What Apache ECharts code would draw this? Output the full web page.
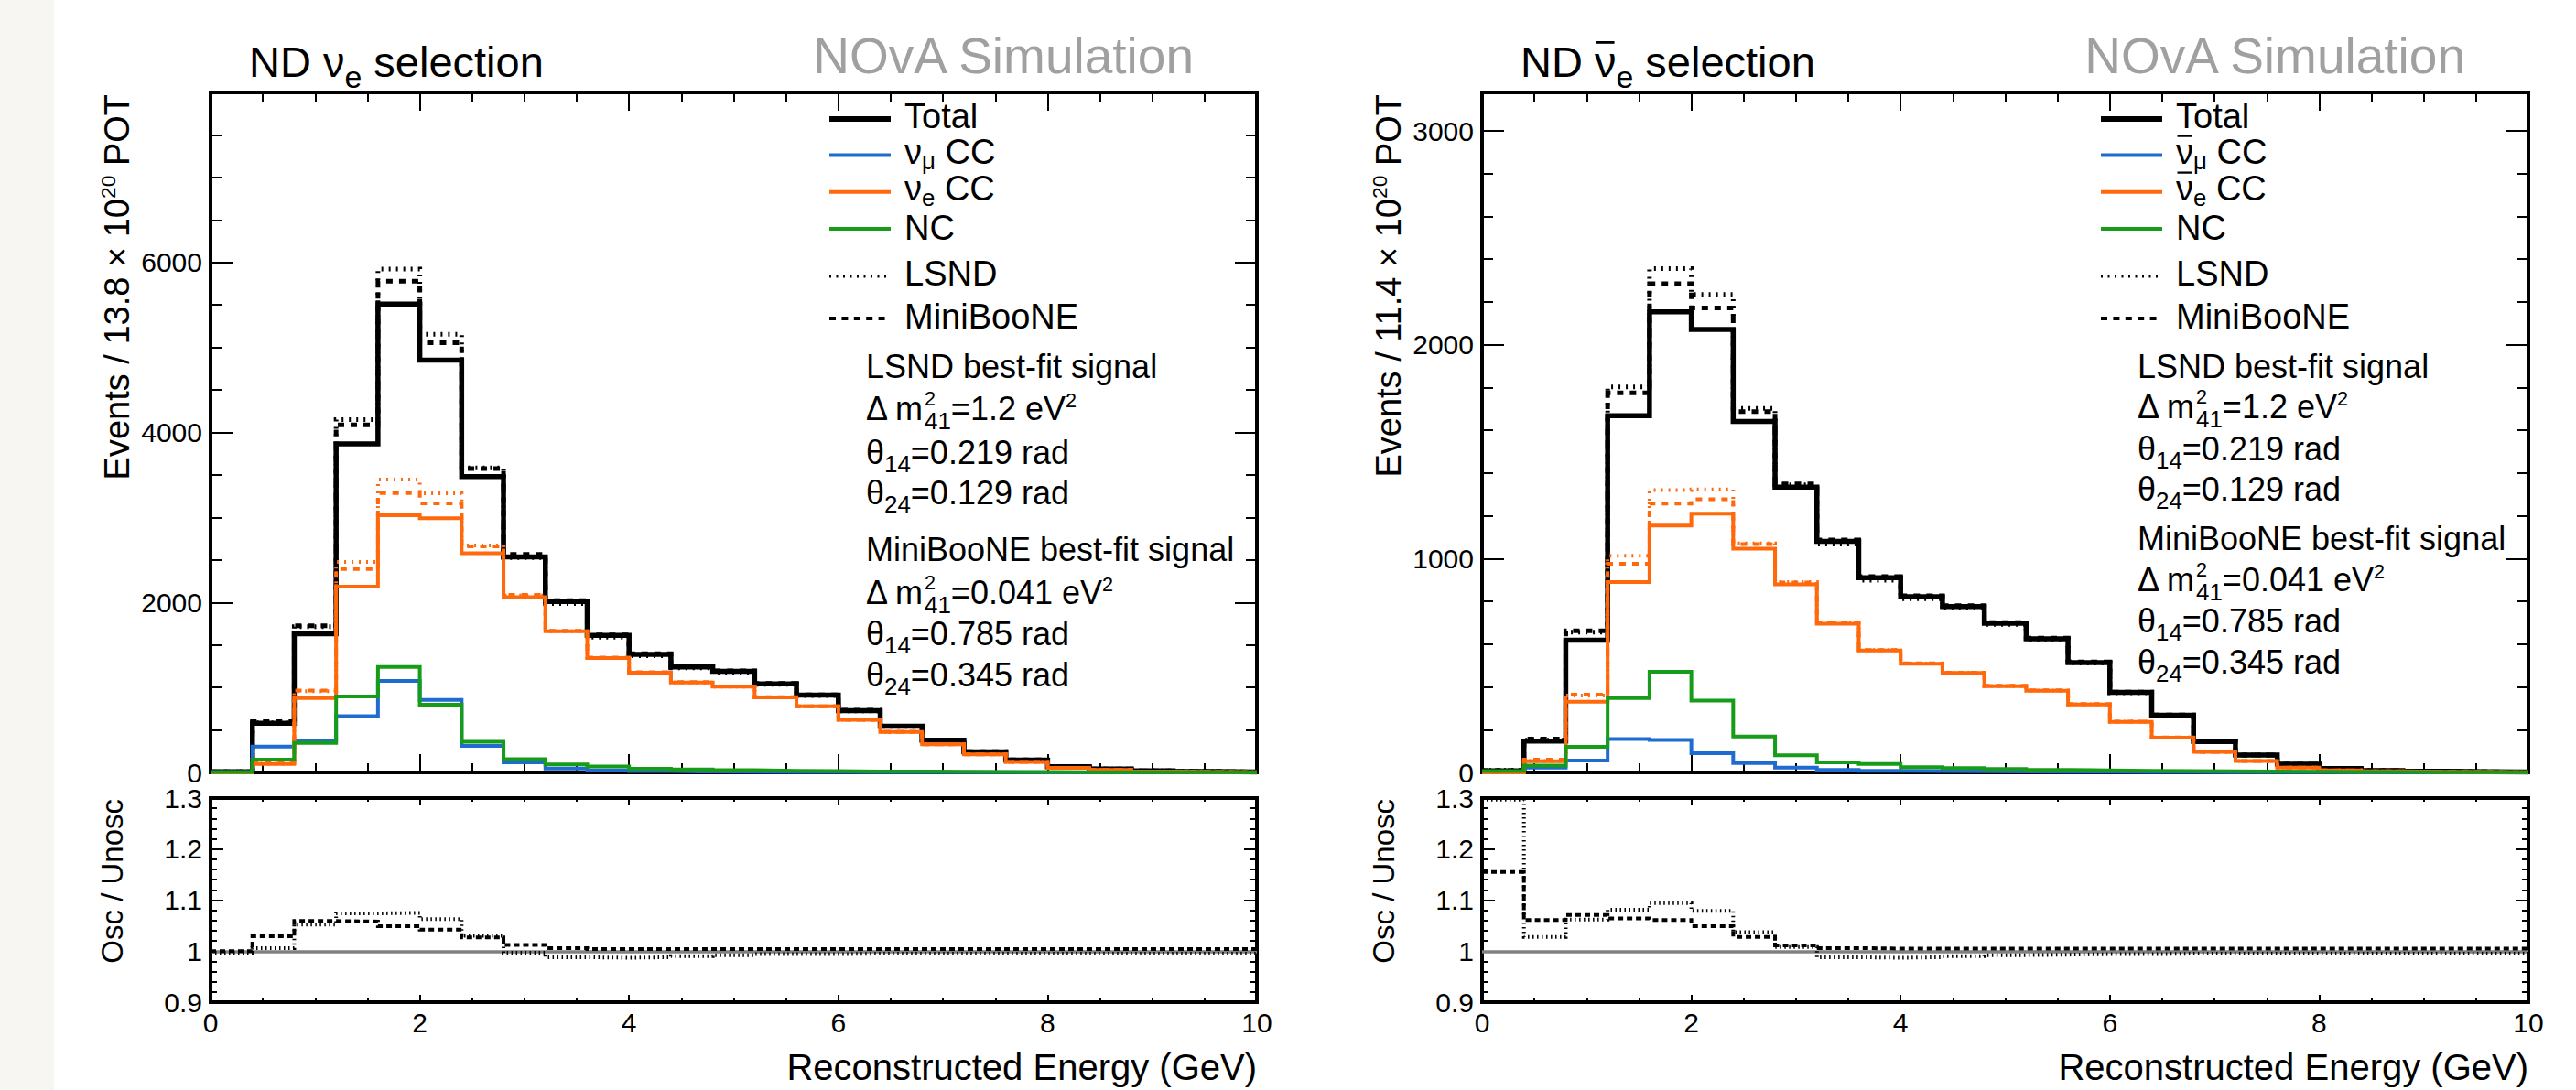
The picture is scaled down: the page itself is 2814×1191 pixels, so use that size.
<!DOCTYPE html>
<html><head><meta charset="utf-8">
<script src="https://cdn.jsdelivr.net/npm/echarts@6/dist/echarts.min.js"></script>
<style>html,body{margin:0;padding:0;background:#fff;}#c{width:2814px;height:1191px;}</style>
</head><body><div id="c"></div>
<script>
// ---------------- data ----------------
const binEdges = [0, 0.4, 0.8, 1.2, 1.6, 2.0, 2.4, 2.8, 3.2, 3.6, 4.0, 4.4, 4.8, 5.2, 5.6, 6.0, 6.4, 6.8, 7.2, 7.6, 8.0, 8.4, 8.8, 9.2, 9.6, 10.0];

// Left: ND nu_e selection
const totalL     = [8, 580, 1630, 3865, 5510, 4850, 3480, 2535, 2010, 1612, 1390, 1242, 1190, 1042, 909, 728, 543, 380, 243, 146, 66, 40, 18, 10, 5];
const totalLsndL = [8, 583, 1715, 4151, 5923, 5156, 3584, 2527, 1986, 1591, 1373, 1230, 1180, 1036, 904, 724, 540, 378, 242, 145, 66, 40, 18, 10, 5];
const totalMbL   = [8, 597, 1726, 4089, 5780, 5054, 3574, 2565, 2022, 1618, 1396, 1247, 1195, 1046, 913, 731, 545, 382, 244, 147, 66, 40, 18, 10, 5];
const numuL      = [2, 303, 377, 663, 1078, 854, 313, 118, 46, 25, 15, 10, 8, 6, 5, 4, 3, 2, 2, 1, 1, 1, 0, 0, 0];
const nueL       = [0, 100, 875, 2187, 3025, 2990, 2579, 2062, 1660, 1345, 1174, 1059, 1009, 883, 777, 618, 477, 331, 212, 124, 53, 30, 12, 6, 3];
const nueLsndL   = [0, 103, 955, 2476, 3445, 3284, 2670, 2080, 1660, 1345, 1174, 1059, 1009, 883, 777, 618, 477, 331, 212, 124, 53, 30, 12, 6, 3];
const nueMbL     = [0, 115, 963, 2392, 3287, 3165, 2660, 2090, 1665, 1350, 1178, 1062, 1012, 885, 779, 620, 478, 332, 212, 124, 53, 30, 12, 6, 3];
const ncL        = [5, 152, 348, 894, 1240, 798, 362, 155, 95, 70, 44, 35, 26, 20, 15, 12, 10, 8, 6, 5, 4, 3, 2, 2, 1];
const ratioLsndL = [0.997, 1.006, 1.052, 1.074, 1.075, 1.063, 1.030, 0.997, 0.988, 0.987, 0.988, 0.990, 0.992, 0.994, 0.994, 0.995, 0.995, 0.995, 0.995, 0.995, 0.995, 0.995, 0.995, 0.995, 0.995];
const ratioMbL   = [1.000, 1.029, 1.059, 1.058, 1.049, 1.042, 1.027, 1.012, 1.006, 1.004, 1.004, 1.004, 1.004, 1.004, 1.004, 1.004, 1.004, 1.004, 1.004, 1.004, 1.004, 1.004, 1.004, 1.004, 1.004];

// Right: ND anti-nu_e selection
const totalR     = [8, 147, 618, 1668, 2154, 2071, 1641, 1334, 1081, 911, 822, 776, 698, 625, 514, 374, 268, 144, 81, 39, 18, 9, 5, 3, 2];
const totalLsndR = [10, 151, 656, 1803, 2356, 2235, 1702, 1345, 1068, 899, 812, 768, 692, 621, 511, 372, 267, 143, 81, 39, 18, 9, 5, 3, 2];
const totalMbR   = [9, 156, 662, 1775, 2285, 2172, 1687, 1349, 1087, 916, 826, 780, 701, 628, 517, 376, 269, 145, 81, 39, 18, 9, 5, 3, 2];
const numuR      = [2, 23, 56, 156, 152, 90, 44, 23, 12, 8, 6, 5, 4, 3, 3, 2, 2, 1, 1, 1, 0, 0, 0, 0, 0];
const nueR       = [0, 52, 331, 890, 1154, 1210, 1046, 879, 696, 570, 508, 465, 403, 382, 318, 237, 163, 96, 53, 23, 10, 5, 3, 2, 1];
const nueLsndR   = [0, 54, 360, 1013, 1320, 1324, 1071, 890, 700, 572, 509, 466, 404, 383, 319, 238, 163, 96, 53, 23, 10, 5, 3, 2, 1];
const nueMbR     = [0, 60, 364, 976, 1257, 1278, 1068, 888, 700, 572, 510, 467, 405, 384, 320, 238, 164, 96, 53, 23, 10, 5, 3, 2, 1];
const ncR        = [6, 32, 120, 348, 471, 336, 168, 80, 47, 40, 25, 20, 16, 12, 10, 8, 6, 5, 4, 3, 2, 2, 1, 1, 1];
const ratioLsndR = [1.297, 1.028, 1.062, 1.081, 1.094, 1.079, 1.037, 1.008, 0.988, 0.987, 0.988, 0.990, 0.992, 0.993, 0.994, 0.994, 0.995, 0.995, 0.995, 0.995, 0.995, 0.995, 0.995, 0.995, 0.995];
const ratioMbR   = [1.155, 1.061, 1.071, 1.064, 1.061, 1.049, 1.028, 1.011, 1.006, 1.005, 1.005, 1.005, 1.005, 1.005, 1.005, 1.005, 1.005, 1.005, 1.005, 1.005, 1.005, 1.005, 1.005, 1.005, 1.005];

// tick labels
const yTicksL = [0, 2000, 4000, 6000];
const yTicksR = [0, 1000, 2000, 3000];
const ratioTicks = [0.9, 1, 1.1, 1.2, 1.3];
const xTicks = [0, 2, 4, 6, 8, 10];

// ---------------- styling ----------------
const FONT = '"Liberation Sans", Arial, Helvetica, sans-serif';
const C_BLUE = '#1f6cd0', C_ORANGE = '#ff690b', C_GREEN = '#169c18', C_GRAY = '#a0a0a0';
const DOT_TOP = [2, 6], DASH_TOP = [7, 7];
const DOT_RAT = [1.5, 3.5], DASH_RAT = [6, 4];

const GRIDS = [
  {left: 230, top: 101, width: 1143, height: 743},
  {left: 230, top: 872, width: 1143, height: 223},
  {left: 1619, top: 101, width: 1143, height: 743},
  {left: 1619, top: 872, width: 1143, height: 223}
];

function hist(vals) {
  const d = vals.map((v, i) => [binEdges[i], v]);
  d.push([binEdges[vals.length], vals[vals.length - 1]]);
  return d;
}
function stepSeries(name, g, vals, color, width, dash, z) {
  return {name, type: 'line', xAxisIndex: 4 * g, yAxisIndex: 4 * g, data: hist(vals), step: 'end',
    showSymbol: false, symbol: 'none', animation: false, silent: true, clip: true, z,
    lineStyle: {color, width, type: dash || 'solid', cap: 'butt', join: 'miter'}};
}

const xAxes = [], yAxes = [];
function fmt(v) { return String(+(+v).toFixed(3)); }
function axisX(g, pos, interval, len, labels) {
  return {type: 'value', gridIndex: g, position: pos, min: 0, max: 10, interval,
    axisLine: {show: false, onZero: false}, splitLine: {show: false},
    axisTick: {show: true, inside: true, length: len, lineStyle: {color: '#000', width: 2}},
    axisLabel: labels ? {show: true, color: '#000', fontSize: 30, fontFamily: FONT, margin: 7,
      formatter: v => xTicks.indexOf(+v) >= 0 ? fmt(v) : ''} : {show: false}};
}
function axisY(g, pos, min, max, interval, len, labels) {
  return {type: 'value', gridIndex: g, position: pos, min, max, interval,
    axisLine: {show: false, onZero: false}, splitLine: {show: false},
    axisTick: {show: true, inside: true, length: len, lineStyle: {color: '#000', width: 2}},
    axisLabel: labels ? {show: true, color: '#000', fontSize: 30, fontFamily: FONT, margin: 9, showMaxLabel: labels.showMax,
      formatter: v => labels.list.some(t => Math.abs(t - v) < 1e-6) ? fmt(v) : ''} : {show: false}};
}
const yCfg = [
  {min: 0, max: 8000, maj: 2000, min_: 500, lm: 24, ln: 12, labels: {list: yTicksL, showMax: false}},
  {min: 0.9, max: 1.3, maj: 0.1, min_: 0.02, lm: 14, ln: 7, labels: {list: ratioTicks, showMax: true}},
  {min: 0, max: 3180, maj: 1000, min_: 200, lm: 24, ln: 12, labels: {list: yTicksR, showMax: false}},
  {min: 0.9, max: 1.3, maj: 0.1, min_: 0.02, lm: 14, ln: 7, labels: {list: ratioTicks, showMax: true}}
];
for (let g = 0; g < 4; g++) {
  const isRatio = g % 2 === 1;
  const xl = isRatio ? 8 : 20, xs = isRatio ? 4 : 10;
  xAxes.push(axisX(g, 'bottom', 2, xl, isRatio));
  xAxes.push(axisX(g, 'bottom', 0.5, xs, false));
  xAxes.push(axisX(g, 'top', 2, xl, false));
  xAxes.push(axisX(g, 'top', 0.5, xs, false));
  const c = yCfg[g];
  yAxes.push(axisY(g, 'left', c.min, c.max, c.maj, c.lm, c.labels));
  yAxes.push(axisY(g, 'left', c.min, c.max, c.min_, c.ln, null));
  yAxes.push(axisY(g, 'right', c.min, c.max, c.maj, c.lm, null));
  yAxes.push(axisY(g, 'right', c.min, c.max, c.min_, c.ln, null));
}

const series = [];
function topPanel(g, tot, totL, totM, numu, nue, nueLs, nueMb, nc) {
  series.push(stepSeries('Total', g, tot, '#000', 5.5, null, 3));
  series.push(stepSeries('Total LSND', g, totL, '#000', 5, DOT_TOP, 4));
  series.push(stepSeries('Total MiniBooNE', g, totM, '#000', 5, DASH_TOP, 4));
  series.push(stepSeries('numu CC', g, numu, C_BLUE, 4, null, 5));
  series.push(stepSeries('nue CC', g, nue, C_ORANGE, 4, null, 6));
  series.push(stepSeries('nue CC LSND', g, nueLs, C_ORANGE, 4, DOT_TOP, 7));
  series.push(stepSeries('nue CC MiniBooNE', g, nueMb, C_ORANGE, 4, DASH_TOP, 7));
  series.push(stepSeries('NC', g, nc, C_GREEN, 4, null, 8));
}
function ratioPanel(g, rl, rm) {
  const s1 = stepSeries('Ratio LSND', g, rl, '#000', 4, DOT_RAT, 5);
  const s2 = stepSeries('Ratio MiniBooNE', g, rm, '#000', 4, DASH_RAT, 5);
  s2.markLine = {silent: true, symbol: 'none', animation: false, label: {show: false},
    lineStyle: {color: '#808080', width: 3.5, type: 'solid'}, data: [{yAxis: 1}], z: 3};
  series.push(s2, s1);
}
topPanel(0, totalL, totalLsndL, totalMbL, numuL, nueL, nueLsndL, nueMbL, ncL);
ratioPanel(1, ratioLsndL, ratioMbL);
topPanel(2, totalR, totalLsndR, totalMbR, numuR, nueR, nueLsndR, nueMbR, ncR);
ratioPanel(3, ratioLsndR, ratioMbR);

// ---------------- text (formulas with sub/superscripts) ----------------
const mctx = document.createElement('canvas').getContext('2d');
function tw(s, size) { mctx.font = size + 'px ' + FONT; return mctx.measureText(s).width; }
function formula(tokens, F, color, o) {
  o = o || {};
  let x = 0; const els = [];
  const subF = F * (o.subScale || 0.72), supF = F * 0.6, subDrop = (o.subDrop != null ? o.subDrop : 0.24);
  function put(text, size, dy, at) {
    els.push({type: 'text', x: at, y: dy - 0.347 * size, z: 100, silent: true,
      style: {text, font: size + 'px ' + FONT, fill: color, align: 'left', verticalAlign: 'middle',
        textAlign: 'left', textVerticalAlign: 'middle'}});
  }
  for (const t of tokens) {
    if (typeof t === 'string') { put(t, F, 0, x); x += tw(t, F); }
    else if (t.sub) { put(t.sub, subF, subDrop * F, x); x += tw(t.sub, subF); }
    else if (t.sup) { put(t.sup, supF, -0.40 * F, x); x += tw(t.sup, supF); }
    else if (t.stack) {
      put(t.stack[0], supF, -0.45 * F, x); put(t.stack[1], subF, 0.29 * F, x);
      x += Math.max(tw(t.stack[0], supF), tw(t.stack[1], subF));
    } else if (t.bar) {
      const w = tw(t.bar, F); put(t.bar, F, 0, x);
      els.push({type: 'line', z: 100, silent: true, shape: {x1: x + w * 0.08, y1: -0.80 * F, x2: x + w * 0.92, y2: -0.80 * F},
        style: {stroke: color, lineWidth: Math.max(2, F * 0.06)}});
      x += w;
    }
  }
  return {els, width: x};
}
const G = [];
G.push({type: 'rect', z: -10, silent: true, shape: {x: 0, y: 0, width: 59, height: 1191}, style: {fill: '#f7f6f2'}});
function addFormula(tokens, F, x, y, opts) {
  opts = opts || {};
  const f = formula(tokens, F, opts.color || '#000', opts);
  G.push({type: 'group', x, y, rotation: opts.rotation || 0, z: 100,
    children: [{type: 'group', x: opts.align === 'right' ? -f.width : 0, y: 0, children: f.els}]});
}
function addLine(x1, x2, y, color, w, dash) {
  G.push({type: 'line', z: 100, silent: true, shape: {x1, y1: y, x2, y2: y},
    style: {stroke: color, lineWidth: w, lineDash: dash || null}});
}

const panels = [
  {dx: 0, title: ['ND ', 'ν', {sub: 'e'}, ' selection'],
   legNumu: ['ν', {sub: 'μ'}, ' CC'], legNue: ['ν', {sub: 'e'}, ' CC'],
   ytitle: ['Events / 13.8 × 10', {sup: '20'}, ' POT'],
   block: [413, 459, 507, 551, 613, 660, 705, 750]},
  {dx: 1389, title: ['ND ', {bar: 'ν'}, {sub: 'e'}, ' selection'],
   legNumu: [{bar: 'ν'}, {sub: 'μ'}, ' CC'], legNue: [{bar: 'ν'}, {sub: 'e'}, ' CC'],
   ytitle: ['Events / 11.4 × 10', {sup: '20'}, ' POT'],
   block: [413, 457, 503, 547, 601, 646, 691, 736]}
];
const LEG_SUB = {subScale: 0.68, subDrop: 0.16};
for (const p of panels) {
  const dx = p.dx;
  addFormula(p.title, 47, 272 + dx, 84);
  addFormula(['NOvA Simulation'], 55, 1307 + dx, 80, {align: 'right', color: C_GRAY});
  // legend
  const lx1 = 906 + dx, lx2 = 973 + dx, tx = 988 + dx;
  addLine(lx1, lx2, 130, '#000', 6);
  addLine(lx1, lx2, 169.5, C_BLUE, 4);
  addLine(lx1, lx2, 209.7, C_ORANGE, 4);
  addLine(lx1, lx2, 250, C_GREEN, 4);
  addLine(lx1, lx2, 302, '#000', 3, [2, 5.5]);
  addLine(lx1, lx2, 348, '#000', 4, [7, 6.4]);
  addFormula(['Total'], 38, tx, 139.7);
  addFormula(p.legNumu, 38, tx, 179, LEG_SUB);
  addFormula(p.legNue, 38, tx, 219, LEG_SUB);
  addFormula(['NC'], 38, tx, 262);
  addFormula(['LSND'], 38, tx, 312);
  addFormula(['MiniBooNE'], 38, tx, 359);
  // best-fit text block
  const bx = 946 + dx, b = p.block;
  addFormula(['LSND best-fit signal'], 36, bx, b[0]);
  addFormula(['Δ m', {stack: ['2', '41']}, '=1.2 eV', {sup: '2'}], 36, bx, b[1]);
  addFormula(['θ', {sub: '14'}, '=0.219 rad'], 36, bx, b[2]);
  addFormula(['θ', {sub: '24'}, '=0.129 rad'], 36, bx, b[3]);
  addFormula(['MiniBooNE best-fit signal'], 36, bx, b[4]);
  addFormula(['Δ m', {stack: ['2', '41']}, '=0.041 eV', {sup: '2'}], 36, bx, b[5]);
  addFormula(['θ', {sub: '14'}, '=0.785 rad'], 36, bx, b[6]);
  addFormula(['θ', {sub: '24'}, '=0.345 rad'], 36, bx, b[7]);
  // axis titles
  addFormula(p.ytitle, 38, 141 + dx, 103, {rotation: Math.PI / 2, align: 'right'});
  addFormula(['Osc / Unosc'], 33, 134 + dx, 873, {rotation: Math.PI / 2, align: 'right'});
  addFormula(['Reconstructed Energy (GeV)'], 40, 1373 + dx, 1180, {align: 'right'});
}

const chart = echarts.init(document.getElementById('c'), null, {renderer: 'svg', width: 2814, height: 1191});
chart.setOption({
  animation: false,
  backgroundColor: '#ffffff',
  grid: GRIDS.map(r => Object.assign({show: true, borderColor: '#000', borderWidth: 4, backgroundColor: 'transparent', containLabel: false}, r)),
  xAxis: xAxes,
  yAxis: yAxes,
  series,
  graphic: {elements: G}
});
</script></body></html>
